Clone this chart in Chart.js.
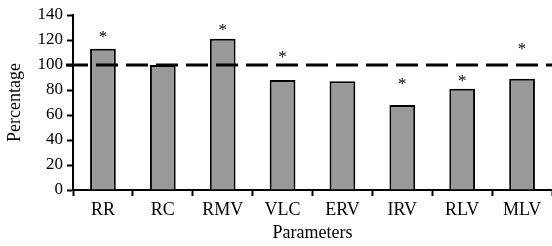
<!DOCTYPE html>
<html>
<head>
<meta charset="utf-8">
<script src="https://cdn.jsdelivr.net/npm/chart.js@4/dist/chart.umd.min.js"></script>
<style>
    html, body { margin: 0; padding: 0; background: #fff; overflow: hidden; }
    #wrap { width: 552px; height: 246px; position: relative; }
</style>
</head>
<body>
<div id="wrap"><canvas id="chartParams"></canvas></div>
<script>
var categorias = ['RR', 'RC', 'RMV', 'VLC', 'ERV', 'IRV', 'RLV', 'MLV'];
var porcentajes = [113, 100, 121, 88, 87, 68, 81, 89];
// altura (en %) donde va cada asterisco; null = sin asterisco
var asteriscos = [125, null, 131, 109, null, 88, 90, 116];
var referencia = 100;
var yTicks = [0, 20, 40, 60, 80, 100, 120, 140];

var serif = '"Liberation Serif", "Times New Roman", serif';

var extras = {
    id: 'extras',
    afterDatasetsDraw: function (chart) {
        var ctx = chart.ctx;
        var x = chart.scales.x;
        var y = chart.scales.y;
        var area = chart.chartArea;

        // linea de referencia al 100 %
        var yRef = y.getPixelForValue(referencia);
        ctx.save();
        ctx.strokeStyle = '#000';
        ctx.lineWidth = 3;
        ctx.setLineDash([22, 8]);
        ctx.beginPath();
        ctx.moveTo(area.left - 7, yRef);
        ctx.lineTo(chart.width, yRef);
        ctx.stroke();
        ctx.restore();

        // asteriscos de significancia
        ctx.save();
        ctx.fillStyle = '#000';
        ctx.font = '17px ' + serif;
        ctx.textAlign = 'center';
        ctx.textBaseline = 'alphabetic';
        asteriscos.forEach(function (v, i) {
            if (v === null) return;
            ctx.fillText('*', x.getPixelForValue(i), y.getPixelForValue(v) + 8.5);
        });
        ctx.restore();
    }
};

new Chart(document.getElementById('chartParams'), {
    type: 'bar',
    data: {
        labels: categorias,
        datasets: [{
            label: 'Percentage',
            data: porcentajes,
            backgroundColor: '#999999',
            borderColor: '#000',
            borderWidth: 2,
            borderSkipped: 'start',
            barPercentage: 0.43,
            categoryPercentage: 1
        }]
    },
    options: {
        responsive: true,
        maintainAspectRatio: false,
        animation: false,
        layout: { padding: { top: 15, right: 0, left: 0, bottom: 0 } },
        plugins: {
            legend: { display: false },
            tooltip: { enabled: false }
        },
        scales: {
            x: {
                afterFit: function (s) { s.height = 56; },
                border: { color: '#000', width: 2 },
                grid: {
                    offset: true,
                    drawOnChartArea: false,
                    drawTicks: true,
                    tickLength: 6,
                    tickWidth: 2,
                    tickColor: '#000'
                },
                ticks: {
                    color: '#000',
                    padding: 3,
                    font: { family: serif, size: 18 },
                    maxRotation: 0
                },
                title: {
                    display: true,
                    text: 'Parameters',
                    color: '#000',
                    font: { family: serif, size: 18 },
                    padding: { top: 0, bottom: 2 }
                }
            },
            y: {
                min: 0,
                max: 140,
                afterFit: function (s) { s.width = 73; },
                afterBuildTicks: function (s) {
                    s.ticks = yTicks.map(function (v) { return { value: v }; });
                },
                border: { color: '#000', width: 2 },
                grid: {
                    drawOnChartArea: false,
                    drawTicks: true,
                    tickLength: 6,
                    tickWidth: 2,
                    tickColor: '#000'
                },
                ticks: {
                    color: '#000',
                    padding: 4,
                    font: { family: serif, size: 17 }
                },
                title: {
                    display: true,
                    text: 'Percentage',
                    color: '#000',
                    font: { family: serif, size: 18 },
                    padding: { top: 4, bottom: 0 }
                }
            }
        }
    },
    plugins: [extras]
});
</script>
</body>
</html>
